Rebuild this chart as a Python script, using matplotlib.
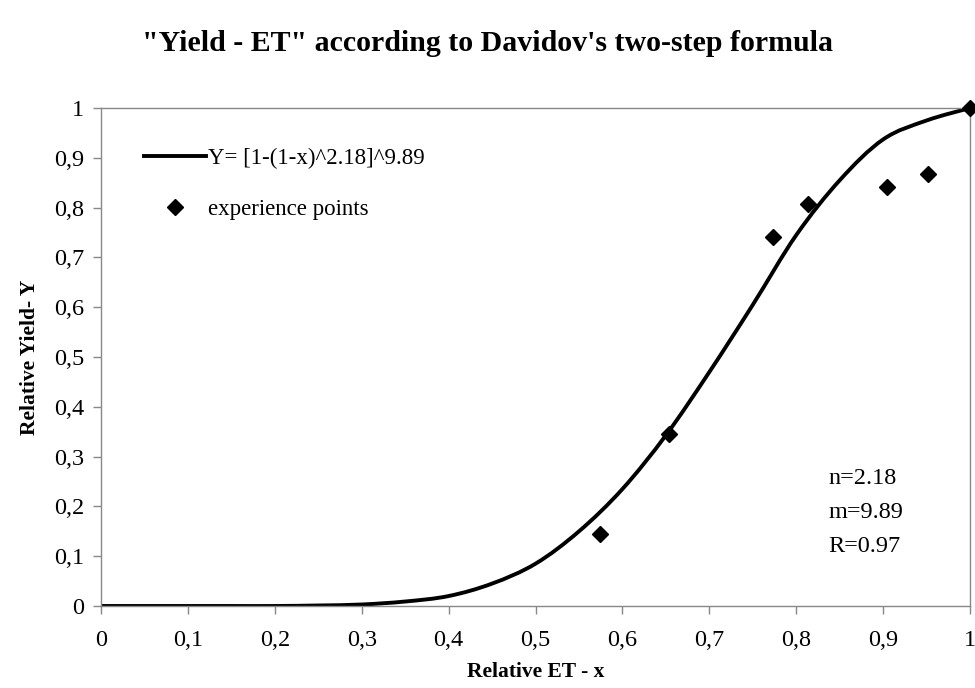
import numpy as np
import matplotlib.pyplot as plt
from matplotlib.path import Path
from matplotlib.patches import PathPatch
from matplotlib.lines import Line2D

plt.rcParams['font.family'] = ['Liberation Serif', 'DejaVu Serif']

# fitted curve
curve_x = [0, 0.05, 0.1, 0.15, 0.2, 0.25, 0.3, 0.35, 0.4, 0.45, 0.5,
           0.55, 0.6, 0.65, 0.7, 0.75, 0.8, 0.85, 0.9, 0.95, 1.0]
curve_y = [0, 0, 0, 0, 0, 0.001, 0.003, 0.009, 0.02, 0.045, 0.085,
           0.15, 0.235, 0.343, 0.47, 0.605, 0.745, 0.855, 0.937, 0.975, 1.0]

# measured points
exp_x = [0.574, 0.653, 0.773, 0.814, 0.904, 0.952, 1.0]
exp_y = [0.144, 0.345, 0.74, 0.807, 0.841, 0.867, 1.0]

ticks = [0, 0.1, 0.2, 0.3, 0.4, 0.5, 0.6, 0.7, 0.8, 0.9, 1]
tick_labels = ["0", "0,1", "0,2", "0,3", "0,4", "0,5", "0,6", "0,7", "0,8", "0,9", "1"]


def smooth_path(xs, ys):
    # Excel-style smoothed line: cubic bezier segments through the points
    p = np.column_stack([xs, ys])
    verts = [p[0]]
    codes = [Path.MOVETO]
    n = len(p)
    for i in range(n - 1):
        p0 = p[i - 1] if i > 0 else p[i]
        p3 = p[i + 2] if i + 2 < n else p[i + 1]
        c1 = p[i] + (p[i + 1] - p0) / 6
        c2 = p[i + 1] - (p3 - p[i]) / 6
        verts += [c1, c2, p[i + 1]]
        codes += [Path.CURVE4] * 3
    return Path(verts, codes)


fig = plt.figure(figsize=(9.75, 6.88), dpi=100)
ax = fig.add_axes([0.1036, 0.1192, 0.8914, 0.7238])

ax.add_patch(PathPatch(smooth_path(curve_x, curve_y), fill=False,
                       edgecolor="black", lw=2.8, capstyle="round", zorder=2))
ax.plot(exp_x, exp_y, "D", color="black", markersize=8.5, zorder=3, clip_on=False)

ax.set_xlim(0, 1)
ax.set_ylim(0, 1)
ax.set_xticks(ticks)
ax.set_xticklabels(tick_labels)
ax.set_yticks(ticks)
ax.set_yticklabels(tick_labels)
ax.tick_params(labelsize=17.5, color="#888888", length=6, width=1)
ax.tick_params(axis="x", pad=11)
ax.tick_params(axis="y", pad=6)
for s in ax.spines.values():
    s.set_color("#888888")
    s.set_linewidth(1)

ax.set_xlabel("Relative ET - x", fontsize=15.5, fontweight="bold", labelpad=8)
ax.set_ylabel("Relative Yield- Y", fontsize=15.5, fontweight="bold", labelpad=10)
fig.text(0.5, 0.937, "\"Yield - ET\" according to Davidov's two-step formula",
         fontsize=21.5, fontweight="bold", ha="center", va="center")

handles = [Line2D([], [], color="black", lw=2.8),
           Line2D([], [], ls="none", marker="D", color="black", markersize=8.5)]
ax.legend(handles, ["Y= [1-(1-x)^2.18]^9.89", "experience points"],
          loc="upper left", bbox_to_anchor=(0.026, 0.962), frameon=False,
          fontsize=16.5, handlelength=2.7, handletextpad=0.1, labelspacing=1.3)

ax.text(0.8366, 0.277, "n=2.18\nm=9.89\nR=0.97", transform=ax.transAxes,
        fontsize=17.5, va="top", ha="left", linespacing=1.8)

plt.savefig("out.png", dpi=100)
